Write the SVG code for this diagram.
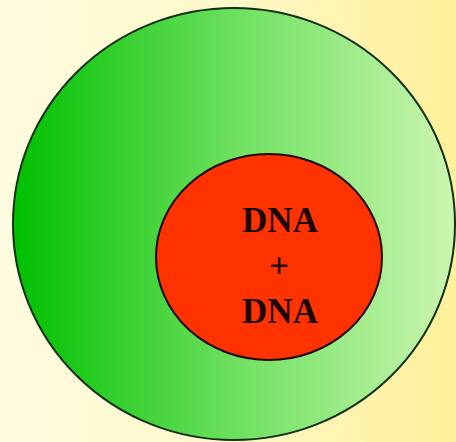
<svg xmlns="http://www.w3.org/2000/svg" width="456" height="442" viewBox="0 0 456 442">
  <defs>
    <linearGradient id="bg" x1="0" y1="0" x2="1" y2="0">
      <stop offset="0" stop-color="#fffbe0"/>
      <stop offset="0.5" stop-color="#fff8c8"/>
      <stop offset="1" stop-color="#fff09a"/>
    </linearGradient>
    <linearGradient id="cell" x1="13" y1="0" x2="456" y2="0" gradientUnits="userSpaceOnUse">
      <stop offset="0" stop-color="#00c000"/>
      <stop offset="0.5" stop-color="#6ee060"/>
      <stop offset="1" stop-color="#ccf6b0"/>
    </linearGradient>
    <style>
      .lbl { font-family: "Liberation Serif", "Times New Roman", serif; font-weight: bold; font-size: 35px; fill: #1a0500; text-anchor: middle; }
    </style>
  </defs>
  <rect x="0" y="0" width="456" height="442" fill="url(#bg)"/>
  <g id="cell-node">
    <ellipse cx="234" cy="224" rx="221" ry="216" fill="url(#cell)" stroke="#103010" stroke-width="2"/>
  </g>
  <g id="nucleus-node">
    <ellipse cx="269" cy="257" rx="113" ry="103" fill="#ff3300" stroke="#200800" stroke-width="2"/>
    <text class="lbl" x="280" y="232">DNA</text>
    <text class="lbl" x="279" y="278">+</text>
    <text class="lbl" x="280" y="323">DNA</text>
  </g>
  <g id="connectors"/>
</svg>
